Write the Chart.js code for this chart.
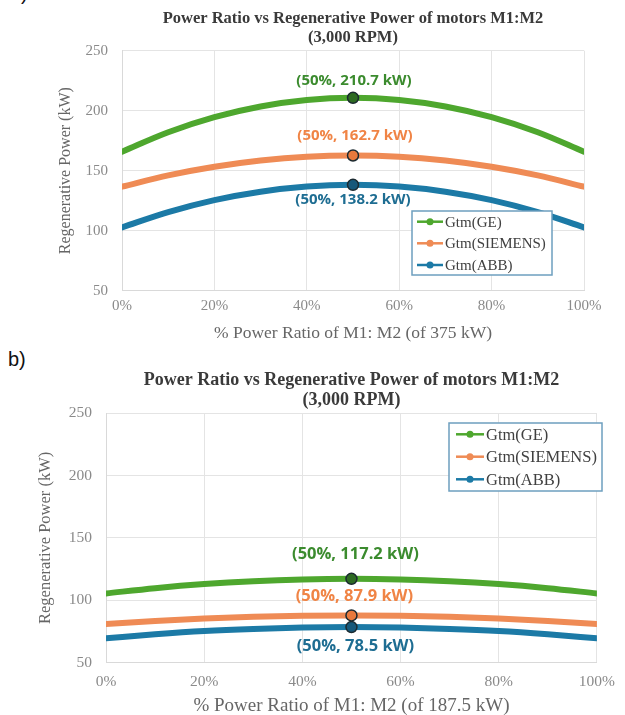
<!DOCTYPE html>
<html><head><meta charset="utf-8">
<script src="https://cdn.jsdelivr.net/npm/chart.js@4.4.1/dist/chart.umd.min.js"></script>
<style>
html,body{margin:0;padding:0;background:#fff}
body{width:625px;height:715px;overflow:hidden;position:relative;font-family:"Liberation Sans",Arial,sans-serif}
canvas{position:absolute;left:0}
#ca{top:0}
#cb{top:345px}
.tag{position:absolute;font-size:20px;line-height:24px;color:#111}
</style></head><body>
<div class="tag" style="left:10px;top:-19px">a)</div>
<div class="tag" style="left:8px;top:347px">b)</div>
<canvas id="ca" width="625" height="345"></canvas>
<canvas id="cb" width="625" height="372"></canvas>
<script>
// ---- data ----
const ratioPct = [0, 10, 20, 30, 40, 50, 60, 70, 80, 90, 100];
const xTickLabels = ['0%', '20%', '40%', '60%', '80%', '100%'];
const yTicks = [50, 100, 150, 200, 250];
const seriesNames = ['Gtm(GE)', 'Gtm(SIEMENS)', 'Gtm(ABB)'];

// chart a) of 375 kW
const geA      = [165.8, 182.0, 194.6, 203.5, 208.9, 210.7, 208.9, 203.5, 194.6, 182.0, 165.8];
const siemensA = [136.7, 146.1, 153.3, 158.5, 161.7, 162.7, 161.7, 158.5, 153.3, 146.1, 136.7];
const abbA     = [102.8, 115.5, 125.5, 132.5, 136.8, 138.2, 136.8, 132.5, 125.5, 115.5, 102.8];
const peakLabelsA = ['(50%, 210.7 kW)', '(50%, 162.7 kW)', '(50%, 138.2 kW)'];

// chart b) of 187.5 kW
const geB      = [105.5, 109.7, 113.0, 115.3, 116.7, 117.2, 116.7, 115.3, 113.0, 109.7, 105.5];
const siemensB = [80.9, 83.4, 85.4, 86.8, 87.6, 87.9, 87.6, 86.8, 85.4, 83.4, 80.9];
const abbB     = [69.5, 72.7, 75.3, 77.0, 78.1, 78.5, 78.1, 77.0, 75.3, 72.7, 69.5];
const peakLabelsB = ['(50%, 117.2 kW)', '(50%, 87.9 kW)', '(50%, 78.5 kW)'];

const titleLines = ['Power Ratio vs Regenerative Power of motors M1:M2', '(3,000 RPM)'];
const yTitle = 'Regenerative Power (kW)';
const xTitleA = '% Power Ratio of M1: M2 (of 375 kW)';
const xTitleB = '% Power Ratio of M1: M2 (of 187.5 kW)';
const peakIndex = 5;

// ---- styles ----
const lineColors = ['#4ea72e', '#ef8b55', '#1c7aa6'];
const markerColors = ['#2d6a22', '#e8793c', '#16587a'];
const labelColors = ['#3b8b2e', '#f08445', '#1e6d92'];
const SERIF = '"Liberation Serif","Times New Roman",serif';

const peakLabelPlugin = {
  id: 'peakLabels',
  afterDatasetsDraw(chart, args, opts) {
    const ctx = chart.ctx;
    ctx.save();
    ctx.font = 'bold ' + opts.size + 'px "Open Sans", sans-serif';
    ctx.textAlign = 'center';
    ctx.textBaseline = 'middle';
    chart.data.datasets.forEach((ds, i) => {
      const pt = chart.getDatasetMeta(i).data[peakIndex];
      ctx.fillStyle = labelColors[i];
      ctx.fillText(opts.texts[i], pt.x + opts.dx[i], pt.y + opts.dy[i]);
    });
    ctx.restore();
  }
};

const boxLegendPlugin = {
  id: 'boxLegend',
  afterDatasetsDraw(chart, args, o) {
    const ctx = chart.ctx;
    ctx.save();
    ctx.fillStyle = '#ffffff';
    ctx.fillRect(o.x, o.y, o.w, o.h);
    ctx.strokeStyle = '#6d9fbf';
    ctx.lineWidth = 1.5;
    ctx.strokeRect(o.x, o.y, o.w, o.h);
    ctx.font = o.size + 'px ' + SERIF;
    ctx.textBaseline = 'middle';
    ctx.textAlign = 'left';
    chart.data.datasets.forEach((ds, i) => {
      const yy = o.rows[i];
      ctx.strokeStyle = ds.borderColor;
      ctx.lineWidth = 2.5;
      ctx.beginPath();
      ctx.moveTo(o.lx0, yy); ctx.lineTo(o.lx1, yy); ctx.stroke();
      ctx.fillStyle = ds.borderColor;
      ctx.beginPath();
      ctx.arc((o.lx0 + o.lx1) / 2, yy, 3.5, 0, Math.PI * 2); ctx.fill();
      ctx.fillStyle = '#404040';
      ctx.fillText(ds.label, o.lx1 + 2, yy + 1);
    });
    ctx.restore();
  }
};

function makeDatasets(arrs) {
  return arrs.map((arr, i) => ({
    label: seriesNames[i],
    data: ratioPct.map((x, k) => ({ x: x, y: arr[k] })),
    borderColor: lineColors[i],
    backgroundColor: lineColors[i],
    borderWidth: 6,
    borderCapStyle: 'round',
    cubicInterpolationMode: 'monotone',
    pointRadius: ratioPct.map((x, k) => k === peakIndex ? 5.5 : 0),
    pointHoverRadius: 0,
    pointBackgroundColor: markerColors[i],
    pointBorderColor: '#1b2a30',
    pointBorderWidth: 1.5
  }));
}

function makeChart(id, g) {
  return new Chart(document.getElementById(id), {
    type: 'line',
    data: { datasets: makeDatasets(g.series) },
    options: {
      responsive: false,
      animation: false,
      events: [],
      layout: { padding: { left: 0, top: 0, right: g.padRight, bottom: 0 } },
      plugins: {
        legend: { display: false },
        tooltip: { enabled: false },
        title: {
          display: true,
          fullSize: false,
          text: titleLines,
          color: '#3a3a3a',
          font: { family: SERIF, size: g.titleSize, weight: 'bold', lineHeight: g.titleLH },
          padding: { top: g.titlePadTop, bottom: g.titlePadBottom }
        },
        peakLabels: { texts: g.peakTexts, size: g.labelSize, dx: g.labelDx, dy: g.labelDy },
        boxLegend: g.legend
      },
      scales: {
        x: {
          type: 'linear', min: 0, max: 100,
          afterBuildTicks: s => { s.ticks = xTickLabels.map((t, i) => ({ value: i * 20 })); },
          afterFit: s => { s.height = g.xAxisH; },
          ticks: { callback: (v, i) => xTickLabels[i], color: '#8a8a8a', padding: g.xTickPad, maxRotation: 0,
                   font: { family: SERIF, size: g.tickSize } },
          grid: { color: '#e4e4e4', lineWidth: 1, drawTicks: false },
          border: { color: '#d9d9d9', width: 1 },
          title: { display: true, text: g.xTitle, color: '#666666',
                   font: { family: SERIF, size: g.xTitleSize, lineHeight: 1.2 }, padding: { top: 0, bottom: g.xTitlePadBottom } }
        },
        y: {
          min: 50, max: 250,
          afterBuildTicks: s => { s.ticks = yTicks.map(v => ({ value: v })); },
          afterFit: s => { s.width = g.yAxisW; },
          ticks: { color: '#8a8a8a', padding: g.yTickPad, font: { family: SERIF, size: g.tickSize } },
          grid: { color: '#e4e4e4', lineWidth: 1, drawTicks: false },
          border: { color: '#d9d9d9', width: 1 },
          title: { display: true, text: yTitle, color: '#666666',
                   font: { family: SERIF, size: g.yTitleSize, lineHeight: 1.2 }, padding: { top: g.yTitlePadTop, bottom: 0 } }
        }
      }
    },
    plugins: [peakLabelPlugin, boxLegendPlugin]
  });
}

makeChart('ca', {
  series: [geA, siemensA, abbA],
  peakTexts: peakLabelsA,
  xTitle: xTitleA,
  padRight: 41,
  titleSize: 16.5, titleLH: 19 / 16.5, titlePadTop: 9, titlePadBottom: 3.7,
  xAxisH: 54.3, xTickPad: 6, tickSize: 15, xTitleSize: 17.5, xTitlePadBottom: 1.5,
  yAxisW: 122, yTickPad: 14, yTitleSize: 16, yTitlePadTop: 56.5,
  labelSize: 15, labelDx: [1, 2, 0], labelDy: [-17, -19.5, 15],
  legend: { x: 412, y: 211, w: 140, h: 64, rows: [221.7, 243.3, 265], lx0: 417, lx1: 443, size: 15 }
});

makeChart('cb', {
  series: [geB, siemensB, abbB],
  peakTexts: peakLabelsB,
  xTitle: xTitleB,
  padRight: 17,
  titleSize: 18, titleLH: 19.5 / 18, titlePadTop: 25.75, titlePadBottom: 3.25,
  xAxisH: 54.3, xTickPad: 10, tickSize: 15.5, xTitleSize: 19, xTitlePadBottom: 0,
  yAxisW: 106, yTickPad: 14, yTitleSize: 16.5, yTitlePadTop: 36,
  labelSize: 16.5, labelDx: [4, 3, 4], labelDy: [-24.5, -19, 19.5],
  legend: { x: 449, y: 78, w: 153, h: 68, rows: [89.3, 111.7, 134.3], lx0: 456, lx1: 484, size: 16.5 }
});
</script>
</body></html>
